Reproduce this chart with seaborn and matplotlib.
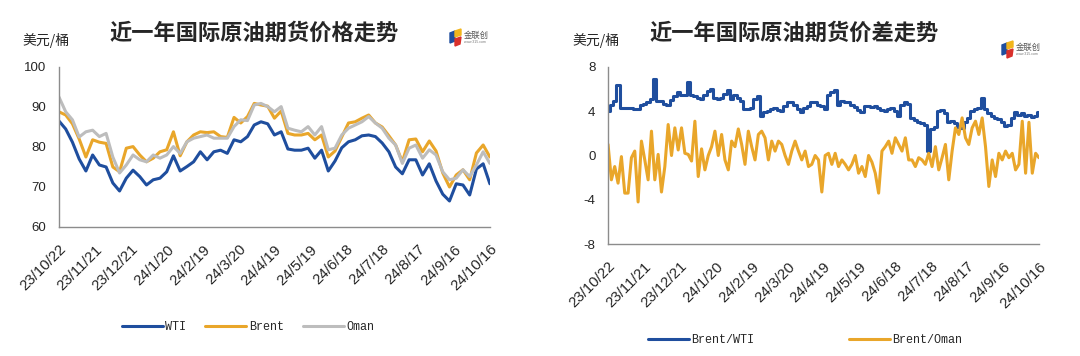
import pandas as pd
import numpy as np
import matplotlib.pyplot as plt
from matplotlib.lines import Line2D
from matplotlib.patches import Polygon
import seaborn as sns

# x axis: one year of data, labels every 30 days
start_date = '2023-10-22'
end_date = '2024-10-16'
tick_dates = ['2023-10-22', '2023-11-21', '2023-12-21', '2024-01-20', '2024-02-19', '2024-03-20',
              '2024-04-19', '2024-05-19', '2024-06-18', '2024-07-18', '2024-08-17', '2024-09-16', '2024-10-16']
tick_labels = ['23/10/22', '23/11/21', '23/12/21', '24/1/20', '24/2/19', '24/3/20', '24/4/19',
               '24/5/19', '24/6/18', '24/7/18', '24/8/17', '24/9/16', '24/10/16']

# 美元/桶
wti = [86.5, 84.5, 81.2, 77.0, 74.0, 78.0, 75.5, 75.0, 71.0, 69.0, 72.2, 74.2, 72.6, 70.5, 71.8, 72.2,
       73.8, 77.8, 74.0, 75.1, 76.3, 78.8, 76.8, 78.8, 79.2, 78.4, 81.8, 81.3, 82.6, 85.5, 86.3, 85.8,
       83.0, 83.8, 79.5, 79.2, 79.2, 79.7, 77.2, 79.2, 74.0, 76.5, 79.8, 81.3, 81.8, 82.8, 83.0, 82.6,
       81.0, 78.8, 75.0, 73.3, 76.8, 76.8, 73.0, 75.8, 71.5, 68.2, 66.5, 70.8, 70.5, 68.0, 74.5, 75.8, 70.8]
brent = [88.8, 88.0, 85.8, 82.0, 77.5, 81.8, 81.2, 80.9, 75.0, 73.8, 79.7, 80.1, 78.0, 76.3, 77.2, 78.8,
         79.3, 83.8, 77.8, 81.3, 83.0, 83.8, 83.6, 83.8, 82.6, 82.4, 87.4, 86.0, 87.6, 90.9, 90.5, 90.2,
         87.2, 89.0, 83.4, 83.0, 83.0, 83.4, 81.8, 83.0, 77.5, 79.0, 82.5, 86.0, 86.3, 87.2, 88.0, 86.0,
         85.0, 82.8, 80.5, 76.3, 81.8, 82.0, 78.8, 81.5, 79.0, 73.5, 70.0, 73.0, 74.3, 71.8, 78.5, 80.5, 77.5]
oman = [92.5, 88.8, 86.8, 82.5, 83.8, 84.2, 82.6, 83.4, 77.5, 73.5, 75.5, 78.0, 76.8, 76.3, 78.0, 77.2,
        78.0, 80.1, 78.4, 81.3, 82.2, 82.6, 83.0, 82.2, 82.2, 82.2, 85.1, 86.8, 86.6, 90.5, 90.9, 90.1,
        88.8, 90.1, 84.7, 84.2, 83.8, 85.1, 83.0, 85.1, 79.3, 79.7, 83.0, 84.7, 85.5, 86.3, 87.6, 86.0,
        84.7, 82.2, 80.5, 75.9, 79.7, 80.5, 77.2, 79.3, 78.0, 73.8, 71.8, 72.2, 74.3, 72.6, 75.5, 78.8, 75.9]

# 价差
brent_wti = [4.0, 4.6, 4.9, 6.4, 4.3, 4.3, 4.3, 4.3, 4.2, 4.2, 4.6, 4.7, 4.8, 5.1, 6.9, 4.9, 4.9, 4.7,
             4.6, 5.0, 5.4, 5.7, 5.5, 5.5, 6.6, 5.5, 5.4, 5.2, 5.1, 5.5, 5.8, 6.0, 5.2, 5.1, 5.2, 5.6,
             5.9, 5.1, 5.5, 5.2, 4.9, 4.2, 4.2, 4.3, 5.1, 5.4, 3.6, 3.9, 4.0, 4.2, 4.3, 4.1, 4.0, 4.5,
             4.8, 4.8, 4.6, 4.2, 3.9, 4.3, 4.5, 4.8, 4.8, 4.6, 4.5, 4.2, 5.5, 5.7, 5.9, 4.6, 4.9, 4.8,
             4.8, 4.6, 4.4, 4.1, 3.9, 4.5, 4.5, 4.4, 4.5, 4.3, 4.1, 4.0, 4.2, 4.3, 4.0, 3.6, 4.6, 4.8,
             4.7, 3.4, 3.2, 3.0, 2.9, 2.8, 0.4, 2.4, 2.6, 4.0, 4.1, 3.8, 3.0, 3.1, 2.9, 2.6, 2.5, 3.0,
             3.4, 4.0, 4.2, 4.3, 5.2, 4.2, 3.8, 3.6, 3.4, 3.3, 3.0, 2.7, 2.8, 3.4, 3.9, 3.7, 3.8, 3.6,
             3.7, 3.5, 3.6, 3.9]
brent_oman = [1.0, -2.2, -1.0, -2.5, -0.1, -3.4, -3.4, -0.2, 0.4, -4.2, 1.3, -0.4, -2.2, 2.2, -2.2, 0.1,
              -3.3, -1.0, 2.8, 0.0, 2.5, 0.5, 2.5, 0.2, 0.1, -0.5, 3.1, -1.9, 0.6, -1.3, 0.0, 0.8,
              2.2, 0.0, 1.9, -0.4, -1.3, 1.3, 0.8, 2.4, 1.0, -0.8, 2.2, 0.8, -0.4, 1.9, 2.2, 1.6,
              -0.4, 1.3, 0.4, 1.3, 1.0, 0.0, -0.8, 0.4, 1.3, 0.4, -0.4, 0.4, -1.0, -0.8, 0.0, -0.4,
              -3.3, 0.0, 0.2, -0.8, 0.2, -1.0, -0.4, -0.8, -1.3, -0.8, 0.0, -1.6, -1.0, -1.9, 0.0, -0.6,
              -1.6, -3.4, 0.4, 0.8, 1.3, 0.2, 1.6, 1.0, 0.4, 1.6, -0.4, -0.4, -1.0, -0.2, -0.4, -0.8,
              0.2, -1.0, 0.8, -1.3, -0.2, 1.0, -2.2, 0.4, 2.5, 1.9, 3.4, 1.6, 1.0, 2.5, 3.1, 1.9,
              3.4, 0.8, -2.8, -0.4, -1.9, 0.2, -0.4, 0.4, -0.2, 0.2, -1.3, -0.8, 3.1, -1.6, 3.0, -1.6,
              0.2, -0.2]

price_colors = {'WTI': '#1F4E9E', 'Brent': '#E9A62A', 'Oman': '#BDBDBD'}
spread_colors = {'Brent/WTI': '#1F4E9E', 'Brent/Oman': '#E9A62A'}

sns.set_style('white')
plt.rcParams['font.family'] = ['Liberation Sans', 'Noto Sans CJK SC']
plt.rcParams['axes.unicode_minus'] = False

price_dates = pd.date_range(start_date, end_date, periods=len(wti))
spread_dates = pd.date_range(start_date, end_date, periods=len(brent_wti))
df_price = pd.DataFrame({'date': price_dates, 'WTI': wti, 'Brent': brent, 'Oman': oman})
df_price = df_price.melt(id_vars='date', var_name='series', value_name='value')
df_bw = pd.DataFrame({'date': spread_dates, 'value': brent_wti})
df_bo = pd.DataFrame({'date': spread_dates, 'value': brent_oman})

fig = plt.figure(figsize=(10.8, 3.56), dpi=100)
ax1 = fig.add_axes([0.0546, 0.3624, 0.399, 0.4494])
ax2 = fig.add_axes([0.563, 0.3146, 0.399, 0.4972])

sns.lineplot(data=df_price, x='date', y='value', hue='series', hue_order=['WTI', 'Brent', 'Oman'],
             palette=price_colors, lw=2.2, legend=False, ax=ax1)
# Brent/WTI moves in steps, Brent/Oman is a jagged line
sns.lineplot(data=df_bw, x='date', y='value', color=spread_colors['Brent/WTI'], lw=2.2,
             drawstyle='steps-mid', ax=ax2)
sns.lineplot(data=df_bo, x='date', y='value', color=spread_colors['Brent/Oman'], lw=2.2, ax=ax2)

ticks = pd.to_datetime(tick_dates)
for ax, ylim, yt in [(ax1, (60, 100), [60, 70, 80, 90, 100]), (ax2, (-8, 8), [-8, -4, 0, 4, 8])]:
    ax.set_xlim(pd.Timestamp(start_date), pd.Timestamp(end_date))
    ax.set_ylim(*ylim)
    ax.set_yticks(yt)
    ax.set_xticks(ticks)
    ax.set_xticklabels(tick_labels, rotation=45, ha='right', va='top', rotation_mode='anchor')
    ax.set_xlabel('')
    ax.set_ylabel('')
    ax.tick_params(axis='both', direction='in', length=3.5, width=0.8, color='#8c8c8c', labelsize=9.5)
    ax.tick_params(axis='x', pad=11, labelsize=10.8)
    ax.tick_params(axis='y', pad=9)
    for side in ['top', 'right']:
        ax.spines[side].set_visible(False)
    for side in ['left', 'bottom']:
        ax.spines[side].set_color('#8c8c8c')
        ax.spines[side].set_linewidth(1)

# titles and units
fig.text(254 / 1080, 1 - 33 / 356, '近一年国际原油期货价格走势', ha='center', va='center',
         fontsize=16, fontweight='bold', family=['Noto Sans CJK SC'])
fig.text(794 / 1080, 1 - 33 / 356, '近一年国际原油期货价差走势', ha='center', va='center',
         fontsize=16, fontweight='bold', family=['Noto Sans CJK SC'])
fig.text(22 / 1080, 1 - 40 / 356, '美元/桶', ha='left', va='center', fontsize=10,
         family=['Noto Sans CJK SC'])
fig.text(572 / 1080, 1 - 40 / 356, '美元/桶', ha='left', va='center', fontsize=10,
         family=['Noto Sans CJK SC'])

# small logos
for lx, ly in [(450, 29), (1002, 41)]:
    fig.patches.append(Polygon([[(lx) / 1080, 1 - (ly + 4) / 356], [(lx + 5) / 1080, 1 - (ly + 2) / 356],
                                [(lx + 5) / 1080, 1 - (ly + 12) / 356], [(lx) / 1080, 1 - (ly + 14) / 356]],
                               closed=True, transform=fig.transFigure, color='#1F4E9E'))
    fig.patches.append(Polygon([[(lx + 5) / 1080, 1 - (ly + 2) / 356], [(lx + 11) / 1080, 1 - ly / 356],
                                [(lx + 11) / 1080, 1 - (ly + 6) / 356], [(lx + 5) / 1080, 1 - (ly + 8) / 356]],
                               closed=True, transform=fig.transFigure, color='#F2B51C'))
    fig.patches.append(Polygon([[(lx + 5) / 1080, 1 - (ly + 10) / 356], [(lx + 11) / 1080, 1 - (ly + 8) / 356],
                                [(lx + 10) / 1080, 1 - (ly + 15) / 356], [(lx + 5) / 1080, 1 - (ly + 17) / 356]],
                               closed=True, transform=fig.transFigure, color='#D9302B'))
    fig.text((lx + 14) / 1080, 1 - (ly + 6) / 356, '金联创', ha='left', va='center', fontsize=6,
             color='#555555', family=['Noto Sans CJK SC'])
    fig.text((lx + 14) / 1080, 1 - (ly + 13) / 356, 'www.315.com', ha='left', va='center', fontsize=2.5,
             color='#777777')

# legends
h1 = [Line2D([], [], color=price_colors[k], lw=2.2) for k in ['WTI', 'Brent', 'Oman']]
fig.legend(h1, ['WTI', 'Brent', 'Oman'], loc='center', bbox_to_anchor=(248 / 1080, 1 - 327 / 356),
           ncol=3, frameon=False, handlelength=3.5, handletextpad=0.2, columnspacing=1.6,
           prop={'family': 'Liberation Mono', 'size': 8.5})
h2 = [Line2D([], [], color=spread_colors[k], lw=2.2) for k in ['Brent/WTI', 'Brent/Oman']]
fig.legend(h2, ['Brent/WTI', 'Brent/Oman'], loc='center', bbox_to_anchor=(805 / 1080, 1 - 340 / 356),
           ncol=2, frameon=False, handlelength=3.5, handletextpad=0.2, columnspacing=8,
           prop={'family': 'Liberation Mono', 'size': 8.5})

fig.savefig('out.png', dpi=100, facecolor='white')
